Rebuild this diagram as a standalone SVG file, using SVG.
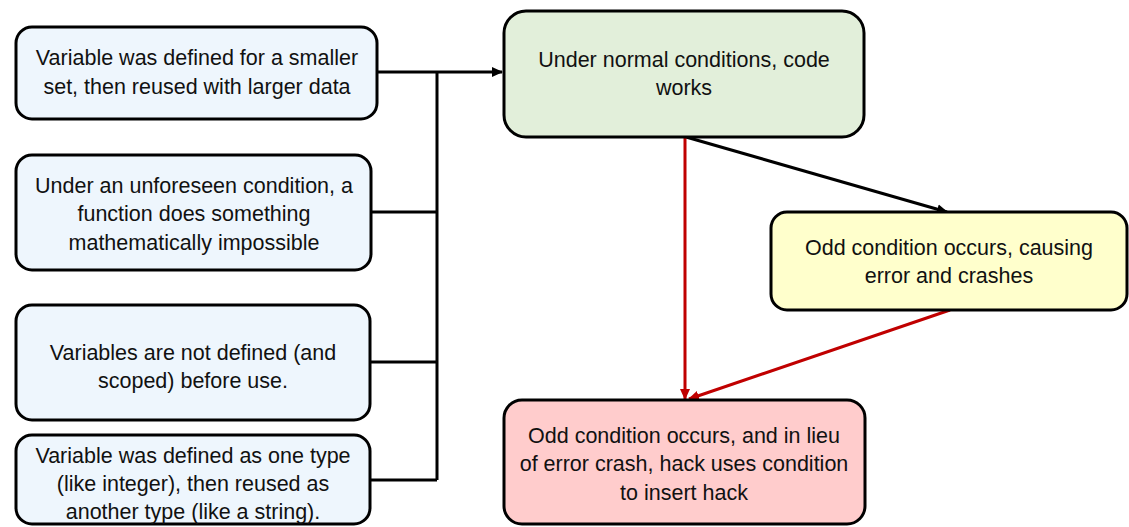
<svg xmlns="http://www.w3.org/2000/svg" width="1129" height="527" viewBox="0 0 1129 527">
  <style>
    .box { stroke: #000; stroke-width: 3; }
    .cause { fill: #EEF6FD; }
    .normal { fill: #E2EFDA; }
    .crash { fill: #FFFFCC; }
    .hack { fill: #FFCCCC; }
    text { font-family: "Liberation Sans", Arial, sans-serif; font-size: 21.5px; fill: #111; text-anchor: middle; }
    .wire { fill: none; stroke: #000; stroke-width: 3; }
    .red { fill: none; stroke: #C00000; stroke-width: 3; }
  </style>
  <defs>
    <marker id="arrowBlack" markerWidth="12" markerHeight="12" refX="10" refY="6" orient="auto" markerUnits="userSpaceOnUse">
      <path d="M0,1 L11,6 L0,11 Z" fill="#000"/>
    </marker>
    <marker id="arrowRed" markerWidth="12" markerHeight="12" refX="10" refY="6" orient="auto" markerUnits="userSpaceOnUse">
      <path d="M0,1 L11,6 L0,11 Z" fill="#C00000"/>
    </marker>
  </defs>

  <g id="connectors">
    <path class="wire" d="M377,72 H437 M371,212 H437 M370,362 H437 M370,480 H437 M437,72 V480"/>
    <path class="wire" d="M437,72 H502" marker-end="url(#arrowBlack)"/>
    <path class="wire" d="M686,137 L947,212" marker-end="url(#arrowBlack)"/>
    <path class="red" d="M685,137 V399" marker-end="url(#arrowRed)"/>
    <path class="red" d="M950,310 L689,399" marker-end="url(#arrowRed)"/>
  </g>

  <g id="cause-reuse-larger">
    <rect class="box cause" x="16" y="27" width="361" height="92" rx="16"/>
    <text x="197" y="65">Variable was defined for a smaller</text>
    <text x="197" y="94">set, then reused with larger data</text>
  </g>

  <g id="cause-impossible-math">
    <rect class="box cause" x="16" y="155" width="355" height="115" rx="16"/>
    <text x="194" y="193">Under an unforeseen condition, a</text>
    <text x="194" y="221">function does something</text>
    <text x="194" y="250">mathematically impossible</text>
  </g>

  <g id="cause-undefined">
    <rect class="box cause" x="16" y="305" width="354" height="115" rx="16"/>
    <text x="193" y="360">Variables are not defined (and</text>
    <text x="193" y="388">scoped) before use.</text>
  </g>

  <g id="cause-type-reuse">
    <rect class="box cause" x="16" y="435" width="354" height="89" rx="16"/>
    <text x="193" y="463">Variable was defined as one type</text>
    <text x="193" y="491">(like integer), then reused as</text>
    <text x="193" y="519">another type (like a string).</text>
  </g>

  <g id="normal">
    <rect class="box normal" x="504" y="11" width="360" height="126" rx="22"/>
    <text x="684" y="67">Under normal conditions, code</text>
    <text x="684" y="95">works</text>
  </g>

  <g id="crash">
    <rect class="box crash" x="771" y="212" width="356" height="98" rx="16"/>
    <text x="949" y="255">Odd condition occurs, causing</text>
    <text x="949" y="283">error and crashes</text>
  </g>

  <g id="hack">
    <rect class="box hack" x="504" y="400" width="361" height="124" rx="18"/>
    <text x="684" y="443">Odd condition occurs, and in lieu</text>
    <text x="684" y="471">of error crash, hack uses condition</text>
    <text x="684" y="500">to insert hack</text>
  </g>
</svg>
